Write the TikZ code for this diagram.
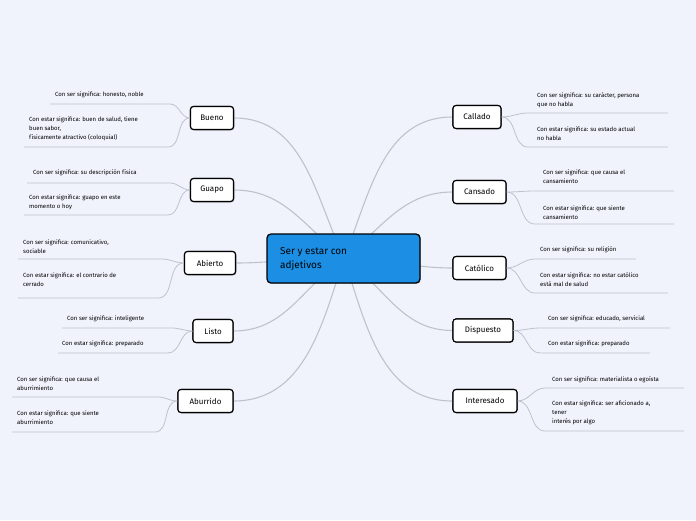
\documentclass[tikz,border=0pt]{standalone}
\usepackage{fontspec}
\setmainfont{Fira Sans}
\usetikzlibrary{shadows}
\definecolor{bg}{RGB}{240,243,252}
\definecolor{cblue}{RGB}{28,143,228}
\definecolor{lgray}{RGB}{190,194,203}
\tikzset{
  tnode/.style={draw=black, line width=1.1pt, fill=white, rounded corners=3pt,
    minimum height=23pt, inner sep=0pt, font=\fontsize{8}{9}\selectfont,
    drop shadow={shadow xshift=0.8pt, shadow yshift=-0.8pt, opacity=0.35}},
  central/.style={draw=black, line width=1.3pt, fill=cblue, rounded corners=4pt,
    minimum width=153pt, minimum height=49pt, inner sep=0pt,
    drop shadow={shadow xshift=0.8pt, shadow yshift=-0.8pt, opacity=0.35}},
  mainline/.style={draw=lgray, line width=1.1pt},
  leafline/.style={draw=lgray, line width=0.8pt},
  leaftext/.style={anchor=west, inner sep=0pt, align=left,
    font=\fontsize{6}{8.8}\selectfont},
}
\begin{document}
\begin{tikzpicture}[x=1pt,y=-1pt]
\fill[bg] (0,0) rectangle (696,520);
\useasboundingbox (0,0) rectangle (696,520);

% main nodes (placed first so connectors can refer to them)
\coordinate (cc) at (344,258);
\node[tnode, minimum width=43pt] (bueno) at (212,118) {Bueno};
\node[tnode, minimum width=43pt] (guapo) at (212,190) {Guapo};
\node[tnode, minimum width=51pt] (abierto) at (210,263) {Abierto};
\node[tnode, minimum width=40pt] (listo) at (213,331) {Listo};
\node[tnode, minimum width=55pt] (aburrido) at (205.5,401) {Aburrido};
\node[tnode, minimum width=48pt] (callado) at (477,117) {Callado};
\node[tnode, minimum width=53pt] (cansado) at (479.5,192) {Cansado};
\node[tnode, minimum width=53pt] (catolico) at (479.5,268) {Católico};
\node[tnode, minimum width=60pt] (dispuesto) at (483,330.5) {Dispuesto};
\node[tnode, minimum width=64pt] (interesado) at (485,401) {Interesado};

% central connectors
\draw[mainline] (cc) to[out=115,in=0] (bueno.east);
\draw[mainline] (cc) to[out=142,in=0] (guapo.east);
\draw[mainline] (cc) to[out=178,in=0] (abierto.east);
\draw[mainline] (cc) to[out=-145,in=0] (listo.east);
\draw[mainline] (cc) to[out=-108,in=0] (aburrido.east);
\draw[mainline] (cc) to[out=68,in=180] (callado.west);
\draw[mainline] (cc) to[out=38,in=180] (cansado.west);
\draw[mainline] (cc) to[out=0,in=180] (catolico.west);
\draw[mainline] (cc) to[out=-35,in=180] (dispuesto.west);
\draw[mainline] (cc) to[out=-72,in=180] (interesado.west);

% redraw nodes on top of connectors
\node[tnode, minimum width=43pt] at (212,118) {Bueno};
\node[tnode, minimum width=43pt] at (212,190) {Guapo};
\node[tnode, minimum width=51pt] at (210,263) {Abierto};
\node[tnode, minimum width=40pt] at (213,331) {Listo};
\node[tnode, minimum width=55pt] at (205.5,401) {Aburrido};
\node[tnode, minimum width=48pt] at (477,117) {Callado};
\node[tnode, minimum width=53pt] at (479.5,192) {Cansado};
\node[tnode, minimum width=53pt] at (479.5,268) {Católico};
\node[tnode, minimum width=60pt] at (483,330.5) {Dispuesto};
\node[tnode, minimum width=64pt] at (485,401) {Interesado};

\node[central] (center) at (343.5,258.5) {};
\node[anchor=west, inner sep=0pt, align=left, font=\fontsize{10}{14}\selectfont]
  (ctext) at (280,259) {Ser y estar con\\adjetivos};

% leaf connectors - left
\coordinate (b1) at (170,104); \coordinate (b2) at (168,147);
\coordinate (g1) at (170,183); \coordinate (g2) at (168,215);
\coordinate (a1) at (162,259); \coordinate (a2) at (158,298);
\coordinate (l1) at (172,328); \coordinate (l2) at (168,353);
\coordinate (u1) at (158,397); \coordinate (u2) at (155,432);
\draw[leafline] (bueno.west) to[out=180,in=0] (b1) -- (50,104);
\draw[leafline] (bueno.west) to[out=180,in=0] (b2) -- (24,147);
\draw[leafline] (guapo.west) to[out=180,in=0] (g1) -- (27,183);
\draw[leafline] (guapo.west) to[out=180,in=0] (g2) -- (24,215);
\draw[leafline] (abierto.west) to[out=180,in=0] (a1) -- (18,259);
\draw[leafline] (abierto.west) to[out=180,in=0] (a2) -- (18,298);
\draw[leafline] (listo.west) to[out=180,in=0] (l1) -- (62,328);
\draw[leafline] (listo.west) to[out=180,in=0] (l2) -- (58,353);
\draw[leafline] (aburrido.west) to[out=180,in=0] (u1) -- (12,397);
\draw[leafline] (aburrido.west) to[out=180,in=0] (u2) -- (12,432);

% leaf connectors - right
\coordinate (c1) at (528,113); \coordinate (c2) at (528,147);
\coordinate (n1) at (535,191); \coordinate (n2) at (535,224);
\coordinate (t1) at (535,259); \coordinate (t2) at (535,293);
\coordinate (d1) at (540,328); \coordinate (d2) at (540,353);
\coordinate (i1) at (545,388); \coordinate (i2) at (545,431);
\draw[leafline] (callado.east) to[out=0,in=180] (c1) -- (668,113);
\draw[leafline] (callado.east) to[out=0,in=180] (c2) -- (668,147);
\draw[leafline] (cansado.east) to[out=0,in=180] (n1) -- (674,191);
\draw[leafline] (cansado.east) to[out=0,in=180] (n2) -- (674,224);
\draw[leafline] (catolico.east) to[out=0,in=180] (t1) -- (636,259);
\draw[leafline] (catolico.east) to[out=0,in=180] (t2) -- (668,293);
\draw[leafline] (dispuesto.east) to[out=0,in=180] (d1) -- (670,328);
\draw[leafline] (dispuesto.east) to[out=0,in=180] (d2) -- (650,353);
\draw[leafline] (interesado.east) to[out=0,in=180] (i1) -- (684,388);
\draw[leafline] (interesado.east) to[out=0,in=180] (i2) -- (684,431);

% leaf texts - left
\node[leaftext] (tb1) at (55,95) {Con ser significa: honesto, noble};
\node[leaftext] (tb2) at (29,129) {Con estar significa: buen de salud, tiene\\buen sabor,\\físicamente atractivo (coloquial)};
\node[leaftext] (tg1) at (33,173) {Con ser significa: su descripción física};
\node[leaftext] (tg2) at (29,202.5) {Con estar significa: guapo en este\\momento o hoy};
\node[leaftext] (ta1) at (23,246.5) {Con ser significa: comunicativo,\\sociable};
\node[leaftext] (ta2) at (23,280) {Con estar significa: el contrario de\\cerrado};
\node[leaftext] (tl1) at (67,319) {Con ser significa: inteligente};
\node[leaftext] (tl2) at (62,344) {Con estar significa: preparado};
\node[leaftext] (tu1) at (17,384) {Con ser significa: que causa el\\aburrimiento};
\node[leaftext] (tu2) at (17,417.5) {Con estar significa: que siente\\aburrimiento};

% leaf texts - right
\node[leaftext] (tc1) at (537,100) {Con ser significa: su carácter, persona\\que no habla};
\node[leaftext] (tc2) at (537,133.5) {Con estar significa: su estado actual\\no habla};
\node[leaftext] (tn1) at (543,177) {Con ser significa: que causa el\\cansamiento};
\node[leaftext] (tn2) at (543,212.5) {Con estar significa: que siente\\cansamiento};
\node[leaftext] (tt1) at (540,250) {Con ser significa: su religión};
\node[leaftext] (tt2) at (540,280) {Con estar significa: no estar católico\\está mal de salud};
\node[leaftext] (td1) at (548,319) {Con ser significa: educado, servicial};
\node[leaftext] (td2) at (548,344) {Con estar significa: preparado};
\node[leaftext] (ti1) at (552,380) {Con ser significa: materialista o egoísta};
\node[leaftext] (ti2) at (552,413) {Con estar significa: ser aficionado a,\\tener\\interés por algo};
\end{tikzpicture}
\end{document}
